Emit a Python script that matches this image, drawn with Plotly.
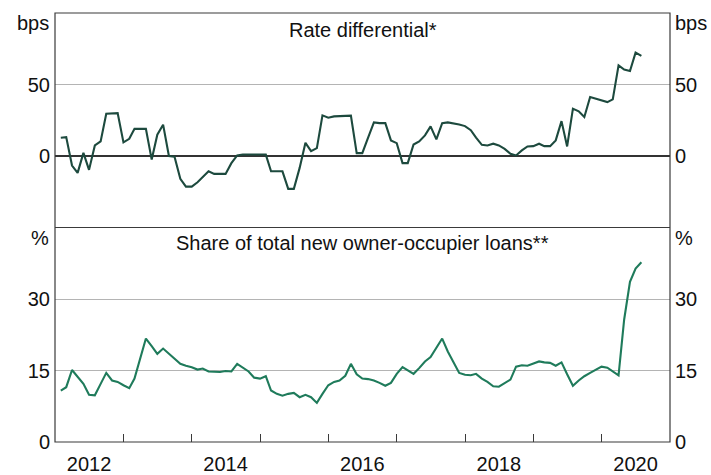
import pandas as pd
import plotly.graph_objects as go

# Monthly observations, Feb 2012 - Aug 2020
months = pd.date_range("2012-02-01", periods=103, freq="MS")

rate_diff = [
    12.8, 13.2, -6.7, -11.8, 2.2, -9.7, 7.4, 10.2, 29.6, 30, 30,
    9.5, 12, 19, 19, 19, -2.5, 14.9, 21.9, 0, -0.5, -16, -21.4,
    -21.4, -18.4, -14.4, -10.7, -12.5, -12.5, -12.5, -5, 0.4, 1, 1, 1,
    1, 1, -10.7, -10.7, -10.7, -23, -23, -8.3, 9.2, 3.4, 5.5, 28.4,
    26.8, 27.7, 27.7, 27.7, 28.2, 2, 2, 12.8, 23.5, 23, 23, 10.9,
    9, -5, -5, 8, 10.2, 14.4, 20.7, 11.6, 23, 23.5, 23, 22,
    20.9, 18, 12.8, 7.8, 7.4, 8.6, 7.4, 5, 1.5, 0.4, 3.9, 6.7,
    6.9, 8.6, 6.9, 6.9, 10.9, 24.4, 6.7, 33.1, 31.2, 27.2, 41.2, 40.1,
    38.9, 37.7, 39.6, 63.4, 60.4, 59.4, 72.3, 70,
]

loan_share = [
    10.8, 11.5, 15.1, 13.6, 12.2, 9.9, 9.8, 12.2, 14.5, 12.9, 12.6,
    11.9, 11.3, 13.3, 17.5, 21.7, 20.1, 18.5, 19.6, 18.5, 17.3, 16.4, 16.0,
    15.7, 15.2, 15.4, 14.8, 14.7, 14.7, 14.9, 14.8, 16.4, 15.7, 14.8, 13.5,
    13.3, 13.8, 10.8, 10.1, 9.7, 10.1, 10.3, 9.4, 9.9, 9.4, 8.2, 10.1,
    11.9, 12.6, 12.9, 13.9, 16.4, 14.2, 13.3, 13.2, 12.9, 12.4, 11.8, 12.4,
    14.3, 15.7, 15.1, 14.3, 15.5, 16.9, 17.8, 19.7, 21.7, 19.0, 16.6, 14.5,
    14.1, 14.0, 14.3, 13.3, 12.6, 11.7, 11.6, 12.3, 13.1, 15.8, 16.1, 16.0,
    16.5, 16.9, 16.7, 16.6, 16.0, 16.7, 14.2, 11.8, 12.9, 13.8, 14.5, 15.2,
    15.8, 15.6, 14.9, 14.0, 25.7, 33.6, 36.4, 37.7,
]

year_labels = ["2012", "2014", "2016", "2018", "2020"]
label_dates = ["2012-07-01", "2014-07-01", "2016-07-01", "2018-07-01", "2020-07-01"]
year_ticks = [f"{y}-01-01" for y in range(2013, 2021)]

top_ticks = [0, 50]
bottom_ticks = [0, 15, 30]

FONT = "Liberation Sans, Arial, sans-serif"
TOP_COLOR = "#1d4a3e"
BOTTOM_COLOR = "#1f7b5b"
FRAME = "#3a3a3a"
FS = 20

fig = go.Figure()
fig.add_trace(go.Scatter(x=months, y=rate_diff, xaxis="x2", yaxis="y2", mode="lines",
                         line=dict(color=TOP_COLOR, width=2.1), showlegend=False))
fig.add_trace(go.Scatter(x=months, y=rate_diff, xaxis="x2", yaxis="y4", mode="lines",
                         line=dict(color="rgba(0,0,0,0)", width=0), showlegend=False,
                         hoverinfo="skip"))
fig.add_trace(go.Scatter(x=months, y=loan_share, xaxis="x", yaxis="y", mode="lines",
                         line=dict(color=BOTTOM_COLOR, width=2.1), showlegend=False))
fig.add_trace(go.Scatter(x=months, y=loan_share, xaxis="x", yaxis="y3", mode="lines",
                         line=dict(color="rgba(0,0,0,0)", width=0), showlegend=False,
                         hoverinfo="skip"))

xr = ["2012-01-01", "2021-01-01"]
tickfont = dict(family=FONT, size=FS, color="#111")

fig.update_layout(
    width=711, height=475,
    margin=dict(l=55, r=41, t=13, b=33, autoexpand=False),
    paper_bgcolor="white", plot_bgcolor="white",
    font=dict(family=FONT, size=FS, color="#111"),
    xaxis=dict(domain=[0, 1], anchor="y", range=xr, type="date", automargin=False,
               tickvals=label_dates, ticktext=year_labels, ticks="",
               tickfont=tickfont, ticklabelstandoff=8, showgrid=False,
               showline=False, zeroline=False,
               minor=dict(tickvals=year_ticks, ticks="inside", ticklen=8,
                          tickcolor=FRAME, tickwidth=1, showgrid=False)),
    xaxis2=dict(domain=[0, 1], anchor="y2", range=xr, type="date", automargin=False,
                matches="x", showticklabels=False, ticks="", showgrid=False,
                showline=False, zeroline=False),
    yaxis=dict(domain=[0, 0.5], anchor="x", range=[0, 45], tickvals=bottom_ticks,
               automargin=False, ticks="", showgrid=True, gridcolor="#b4b4b4", gridwidth=1,
               zeroline=False, showline=False, tickfont=tickfont, ticklabelstandoff=4),
    yaxis3=dict(domain=[0, 0.5], anchor="x", overlaying="y", side="right",
                automargin=False, range=[0, 45], tickvals=bottom_ticks, ticks="",
                showgrid=False, zeroline=False, showline=False, tickfont=tickfont,
                ticklabelstandoff=4),
    yaxis2=dict(domain=[0.5, 1], anchor="x2", range=[-50, 100], tickvals=top_ticks,
                automargin=False, ticks="", showgrid=True, gridcolor="#b4b4b4", gridwidth=1,
                zeroline=True, zerolinecolor="#333", zerolinewidth=1.6,
                showline=False, tickfont=tickfont, ticklabelstandoff=4),
    yaxis4=dict(domain=[0.5, 1], anchor="x2", overlaying="y2", side="right",
                automargin=False, range=[-50, 100], tickvals=top_ticks, ticks="",
                showgrid=False, zeroline=False, showline=False, tickfont=tickfont,
                ticklabelstandoff=4),
    shapes=[
        dict(type="rect", xref="paper", yref="paper", x0=0, x1=1, y0=0, y1=1,
             line=dict(color=FRAME, width=1.2), layer="above"),
        dict(type="line", xref="paper", yref="paper", x0=0, x1=1, y0=0.5, y1=0.5,
             line=dict(color=FRAME, width=1.2), layer="above"),
    ],
    annotations=[
        dict(text="Rate differential*", xref="paper", yref="y2", x=0.5, y=88,
             showarrow=False, font=tickfont),
        dict(text="Share of total new owner-occupier loans**", xref="paper", yref="y",
             x=0.5, y=41.8, showarrow=False, font=tickfont),
        dict(text="bps", xref="paper", yref="y2", x=0, y=93, xanchor="right", xshift=-4,
             showarrow=False, font=tickfont),
        dict(text="bps", xref="paper", yref="y2", x=1, y=93, xanchor="left", xshift=3,
             showarrow=False, font=tickfont),
        dict(text="%", xref="paper", yref="y", x=0, y=42.8, xanchor="right", xshift=-4,
             showarrow=False, font=tickfont),
        dict(text="%", xref="paper", yref="y", x=1, y=42.8, xanchor="left", xshift=3,
             showarrow=False, font=tickfont),
    ],
)

fig.write_html(
    "out.html",
    config={"displayModeBar": False},
    post_script="document.body.style.margin='0';document.body.style.overflow='hidden';",
)
